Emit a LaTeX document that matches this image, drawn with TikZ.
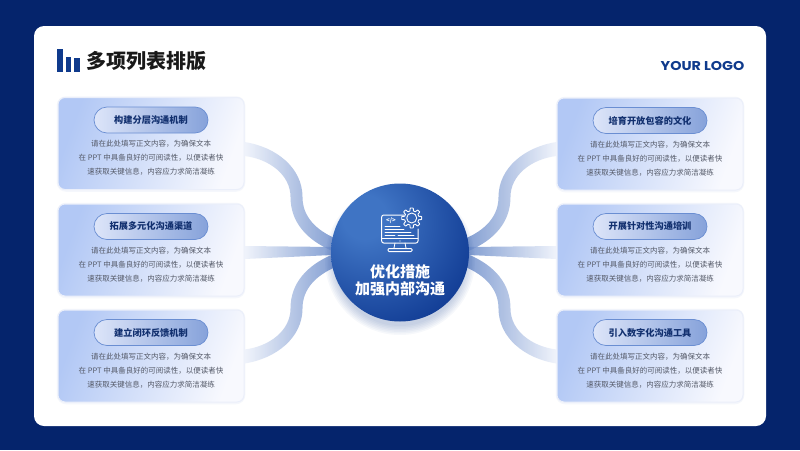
\documentclass[tikz,border=0pt]{standalone}
\usepackage{fontspec}
\setmainfont{Noto Sans CJK SC}
\newfontfamily\logofont[FakeStretch=1.12]{Poppins}
\usetikzlibrary{calc}
\definecolor{navy}{HTML}{05246C}
\definecolor{barblue}{HTML}{0F3A8C}
\definecolor{cardA}{HTML}{B2C8F5}
\definecolor{cardB}{HTML}{F8F9FE}
\definecolor{cardedge}{HTML}{EBEFFA}
\definecolor{pillA}{HTML}{DDE5F9}
\definecolor{pillB}{HTML}{86A2DA}
\definecolor{pilledge}{HTML}{6A8ED2}
\definecolor{pilltext}{HTML}{12306F}
\definecolor{bodytext}{HTML}{555A68}
\definecolor{bandA}{HTML}{EEF2FB}
\definecolor{bandB}{HTML}{6F8FCB}
\definecolor{hubA}{HTML}{3F74C4}
\definecolor{hubB}{HTML}{123D95}
\pgfdeclareradialshading{hubshade}{\pgfpoint{-14bp}{14bp}}{
  color(0bp)=(hubA); color(8bp)=(hubA); color(38bp)=(hubB); color(100bp)=(hubB)}
\tikzset{
  cardbox/.style={rectangle,rounded corners=7pt,minimum width=186pt,minimum height=92pt,inner sep=0pt,
    draw=cardedge,line width=1pt,left color=cardA,right color=cardB,shading angle=70},
  pillbox/.style={rectangle,rounded corners=13pt,minimum width=114pt,minimum height=26pt,inner sep=0pt,
    draw=pilledge,line width=.7pt,left color=pillA,right color=pillB,
    text=pilltext,font=\fontsize{9.2}{12}\selectfont\bfseries},
  bodybox/.style={align=center,inner sep=0pt,text=bodytext,font=\fontsize{7.5}{14}\selectfont},
  hubbox/.style={circle,minimum size=138pt,inner sep=0pt,shading=hubshade},
  hubtext/.style={align=center,inner sep=0pt,text=white,font=\fontsize{15}{17}\selectfont\bfseries},
  bandfill/.style={opacity=.85},
  iconline/.style={draw=white,line width=1pt,line cap=round,line join=round},
}
% card, pill, body text
\newcommand{\itemcard}[4]{% name, x, y, title
  \draw[cardedge!50,line width=2.5pt,rounded corners=8pt] (#2-93,#3-46) rectangle (#2+93,#3+47);
  \node[cardbox] (#1) at (#2,#3) {};
  \node[pillbox] (#1p) at (#2,#3-23.5) {#4};
  \node[bodybox] (#1b) at (#2,#3+14.5) {请在此处填写正文内容，为确保文本\\在 PPT 中具备良好的可阅读性，以便读者快\\速获取关键信息，内容应力求简洁凝练};
}
\newcommand{\curveband}[5]{% start anchor, dy, sx, sy, near-card colour side
  \coordinate (S) at ($(#1)+(0,#2)$);
  \path[bandfill,#5]
    ($(S)+(#3*0,#4*-7)$)
    .. controls ($(S)+(#3*32,#4*-2)$) and ($(S)+(#3*58,#4*19)$) .. ($(S)+(#3*58,#4*48)$)
    .. controls ($(S)+(#3*58,#4*68)$) and ($(S)+(#3*72,#4*81)$) .. ($(S)+(#3*90,#4*89)$)
    -- ($(S)+(#3*88,#4*102)$)
    .. controls ($(S)+(#3*62,#4*91)$) and ($(S)+(#3*46,#4*73)$) .. ($(S)+(#3*46,#4*48)$)
    .. controls ($(S)+(#3*46,#4*26)$) and ($(S)+(#3*25,#4*10)$) .. ($(S)+(#3*0,#4*7)$)
    -- cycle;
}
\newcommand{\straightband}[4]{% start anchor, dy, sx, colours
  \coordinate (S) at ($(#1)+(0,#2)$);
  \path[bandfill,#4] ($(S)+(0,-6.5)$) -- ($(S)+(#3*88,-5.5)$) -- ($(S)+(#3*88,2.5)$) -- ($(S)+(0,6.5)$) -- cycle;
}
\begin{document}
\begin{tikzpicture}[x=1pt,y=-1pt]
\useasboundingbox (0,0) rectangle (800,450);
\fill[navy] (0,0) rectangle (800,450);
\fill[white,rounded corners=10pt] (34,26) rectangle (766,426);
% title
\fill[barblue] (57,49) rectangle (63,71.5);
\fill[barblue] (65.5,57) rectangle (71,71.5);
\fill[barblue] (74,58) rectangle (79.5,71.5);
\node[inner sep=0pt,text=black!90,font=\fontsize{20}{24}\selectfont\bfseries] (title) at (146.5,61) {多项列表排版};
\node[inner sep=0pt,text=barblue,font=\logofont\fontsize{12.8}{14}\selectfont\bfseries] (logo) at (702.5,66) {YOUR LOGO};
% cards
\itemcard{c1}{151}{143.5}{构建分层沟通机制}
\itemcard{c2}{151}{250}{拓展多元化沟通渠道}
\itemcard{c3}{151}{356}{建立闭环反馈机制}
\itemcard{c4}{650}{144}{培育开放包容的文化}
\itemcard{c5}{650}{250}{开展针对性沟通培训}
\itemcard{c6}{650}{356}{引入数字化沟通工具}
% connectors
\curveband{c1.east}{5.5}{1}{1}{left color=bandA,right color=bandB}
\straightband{c2.east}{2.5}{1}{left color=bandA,right color=bandB}
\curveband{c3.east}{.5}{1}{-1}{left color=bandA,right color=bandB}
\curveband{c4.west}{5}{-1}{1}{left color=bandB,right color=bandA}
\straightband{c5.west}{2.5}{-1}{left color=bandB,right color=bandA}
\curveband{c6.west}{.5}{-1}{-1}{left color=bandB,right color=bandA}
% hub shadow
\foreach \r in {66,67.5,...,75}{\fill[hubB,opacity=.035] (400,260) circle[radius=\r];}
\node[hubbox] (hub) at (400,252.5) {};
\node[hubtext] (hubt) at (400,280.5) {优化措施\\加强内部沟通};
% icon
\draw[iconline,rounded corners=2pt] (404,215) -- (381.7,215) -- (381.7,243) -- (418,243) -- (418,229);
\draw[iconline,line width=.8pt] (382,238.5) -- (418,238.5);
\draw[iconline,line width=.8pt] (395,243) -- (394,248) (405,243) -- (406,248);
\draw[iconline,rounded corners=1pt] (388,248.5) -- (412,248.5) -- (412,251.5) -- (388,251.5) -- cycle;
\fill[white] (400,241) circle[radius=.6];
\node[inner sep=0pt,text=white,font=\fontsize{6}{7}\selectfont\bfseries] (code) at (391,220.5) {</>};
\draw[iconline,line width=.8pt] (385,226) -- (400,226) (385,229) -- (404,229) (385,232) -- (411,232) (385,235.5) -- (395,235.5) (398,235.5) -- (414,235.5);
\draw[iconline,line width=.9pt,shift={(411.7,218)}] plot[samples=145,domain=0:360] ({(8.6+1.4*max(-1,min(1,3*cos(8*\x))))*cos(\x)},{(8.6+1.4*max(-1,min(1,3*cos(8*\x))))*sin(\x)}) -- cycle;
\draw[iconline,line width=.9pt] (411.7,218) circle[radius=5];
\end{tikzpicture}
\end{document}
